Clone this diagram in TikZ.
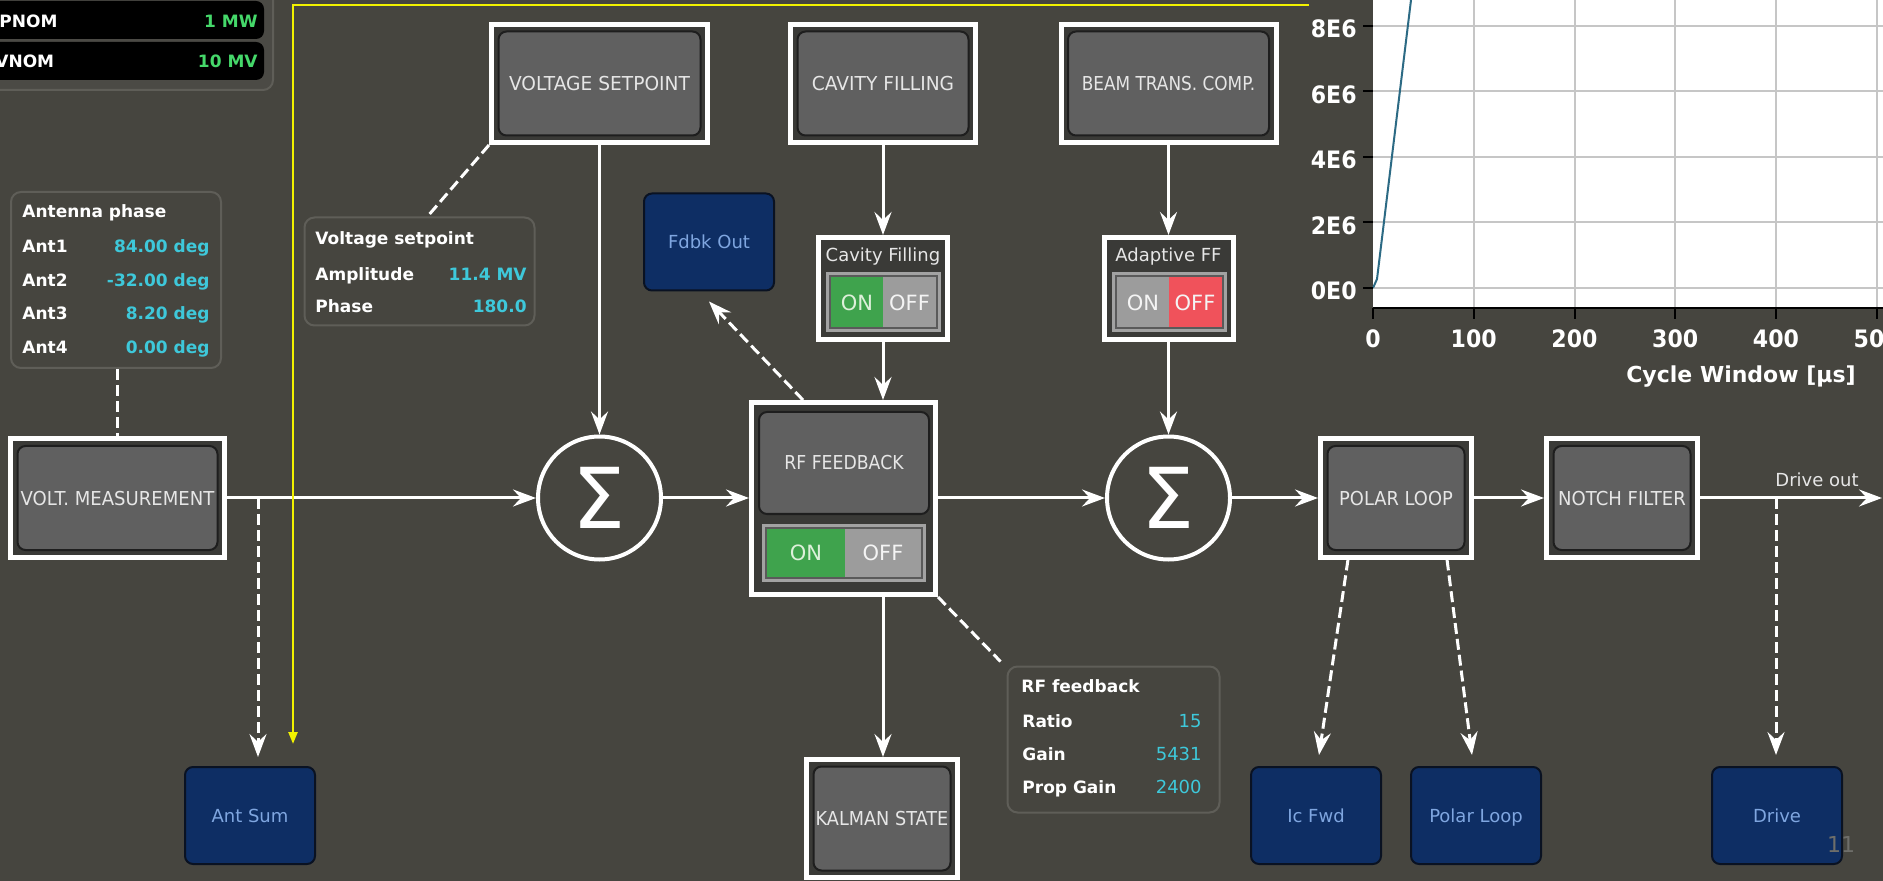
\documentclass[tikz,border=0pt]{standalone}
\usepackage{fontspec}
\setmainfont{DejaVu Sans}
\usepackage{graphicx}
\usetikzlibrary{arrows.meta}
\definecolor{bg}{HTML}{46453F}
\definecolor{ring}{HTML}{3A3A37}
\definecolor{boxgray}{HTML}{606060}
\definecolor{boxedge}{HTML}{1E1E1E}
\definecolor{lbl}{HTML}{E6E6E6}
\definecolor{ongreen}{HTML}{3FA34D}
\definecolor{offgray}{HTML}{9C9C9C}
\definecolor{offred}{HTML}{F0525B}
\definecolor{framegray}{HTML}{A2A2A2}
\definecolor{framein}{HTML}{5A5A5A}
\definecolor{navy}{HTML}{0E2E64}
\definecolor{navyedge}{HTML}{0A1222}
\definecolor{navytext}{HTML}{7FA6E0}
\definecolor{cyanval}{HTML}{3EC8DA}
\definecolor{greenval}{HTML}{45D86A}
\definecolor{panelline}{HTML}{5F5E58}
\definecolor{panelfill}{HTML}{4B4A45}
\definecolor{gridgray}{HTML}{C6C6C6}
\definecolor{curvecol}{HTML}{2C6A84}
\definecolor{pagegray}{HTML}{6E6E6A}
\definecolor{ylw}{HTML}{F2F200}
\definecolor{ontxt}{HTML}{DDF0DA}
\definecolor{offtxt}{HTML}{F4F4F4}
\tikzset{
  outerbox/.style={draw=white, line width=2.5pt, fill=ring, inner sep=0pt},
  innerbox/.style={draw=boxedge, line width=1pt, fill=boxgray, rounded corners=4pt, inner sep=0pt, text=lbl, font=\fontsize{9.6}{11}\selectfont, text height=7pt, text depth=0pt},
  sumnode/.style={circle, draw=white, line width=2pt, fill=bg, inner sep=0pt, minimum size=61.5pt, text=white, font=\fontsize{42}{42}\selectfont},
  conn/.style={draw=white, line width=1.5pt, -{Stealth[length=11.5pt,width=8.5pt,inset=4pt]}},
  dashline/.style={draw=white, line width=1.5pt, dash pattern=on 5.5pt off 2.5pt},
  dasharrow/.style={dashline, -{Stealth[length=11.5pt,width=8.5pt,inset=4pt]}},
  navybox/.style={draw=navyedge, line width=1pt, fill=navy, rounded corners=4pt, inner sep=0pt, minimum width=65pt, minimum height=48.5pt, text=navytext, font=\fontsize{9}{11}\selectfont, text height=6.5pt, text depth=0pt},
  infopanel/.style={draw=panelline, line width=1pt, fill=bg, rounded corners=5pt, inner sep=0pt},
  plbl/.style={anchor=base west, inner sep=0pt, text=white, font=\fontsize{8.5}{10}\selectfont\bfseries},
  pval/.style={anchor=base east, inner sep=0pt, text=cyanval, font=\fontsize{8.5}{10}\selectfont\bfseries},
  pvalreg/.style={anchor=base east, inner sep=0pt, text=cyanval, font=\fontsize{9}{11}\selectfont},
  smalllbl/.style={anchor=base, inner sep=0pt, text=lbl, font=\fontsize{9}{11}\selectfont},
  swtext/.style={inner sep=0pt, font=\fontsize{10.5}{12}\selectfont},
  swframe/.style={draw=framegray, line width=1.5pt, fill=framein},
  ticklbl/.style={inner sep=0pt, text=white, font=\fontsize{12}{14}\selectfont\bfseries},
  gridln/.style={draw=gridgray, line width=1pt},
  ylwline/.style={draw=ylw, line width=1.2pt, -{Triangle[length=6pt,width=4.5pt]}},
  topval/.style={anchor=base east, inner sep=0pt, text=greenval, font=\fontsize{8.5}{10}\selectfont\bfseries},
  toplbl/.style={anchor=base west, inner sep=0pt, text=white, font=\fontsize{8.5}{10}\selectfont\bfseries},
}
\newcommand\mkblock[7]{%
  \node[outerbox, minimum width={(#4-5)*0.5pt}, minimum height={(#5-5)*0.5pt}] (#1) at (#2,#3) {};
  \node[innerbox, minimum width={(#4-19)*0.5pt}, minimum height={(#5-19)*0.5pt}] (#1in) at (#2,#3) {\scalebox{#6}[1]{#7}};
}
\begin{document}
\begin{tikzpicture}[x=0.5pt, y=-0.5pt]
\useasboundingbox (0,0) rectangle (1883,881);
\clip (0,0) rectangle (1883,881);
\fill[bg] (0,0) rectangle (1883,881);

% top-left status panel
\draw[fill=panelfill, draw=panelline, line width=1pt, rounded corners=5pt] (-20,-20) rectangle (273,90);
\fill[black, rounded corners=4pt] (-20,1) rectangle (264,39);
\fill[black, rounded corners=4pt] (-20,42) rectangle (264,80);
\node[toplbl] (pnom) at (-1,28) {PNOM};
\node[topval] (pnomv) at (258,28) {1 MW};
\node[toplbl] (vnom) at (-5,68) {VNOM};
\node[topval] (vnomv) at (258,68) {10 MV};

% chart
\fill[white] (1373,-20) rectangle (1900,308);
\foreach \k in {0,...,4} { \draw[gridln] (1373,{288-65.5*\k}) -- (1900,{288-65.5*\k}); }
\foreach \k in {1,...,5} { \draw[gridln] ({1373+100.75*\k},-20) -- ({1373+100.75*\k},308); }
\draw[curvecol, line width=1pt] (1373,288) -- (1377,279) -- (1411,0) -- (1413,-12);
\draw[black, line width=1pt] (1373,308) -- (1900,308);
\foreach \k/\lab in {0/0,1/100,2/200,3/300,4/400,5/500} {
  \draw[black, line width=1pt] ({1373+100.75*\k},308) -- ({1373+100.75*\k},319);
  \node[ticklbl, anchor=base] (xl\k) at ({1373+100.75*\k},348) {\scalebox{0.92}[1]{\lab}};
}
\foreach \k/\lab in {0/0E0,1/2E6,2/4E6,3/6E6,4/8E6} {
  \draw[black, line width=1pt] (1363,{288-65.5*\k}) -- (1373,{288-65.5*\k});
  \node[ticklbl, anchor=base east] (yl\k) at (1357,{300-65.5*\k}) {\scalebox{0.92}[1]{\lab}};
}
\node[anchor=base, inner sep=0pt, text=white, font=\fontsize{11}{13}\selectfont\bfseries] (xtitle) at (1741,383) {Cycle Window [µs]};

% info panels
\node[infopanel, minimum width=105pt, minimum height=88pt] (ant) at (116,280) {};
\node[plbl] (antt) at (22,218) {Antenna phase};
\node[plbl] (a1) at (22,253) {Ant1};
\node[plbl] (a2) at (22,286.5) {Ant2};
\node[plbl] (a3) at (22,320) {Ant3};
\node[plbl] (a4) at (22,353.5) {Ant4};
\node[pval] (a1v) at (210,253) {84.00 deg};
\node[pval] (a2v) at (210,286.5) {-32.00 deg};
\node[pval] (a3v) at (210,320) {8.20 deg};
\node[pval] (a4v) at (210,353.5) {0.00 deg};

\node[infopanel, minimum width=115pt, minimum height=54pt] (vpanel) at (419.5,271.5) {};
\node[plbl] (vpt) at (315,245) {Voltage setpoint};
\node[plbl] (vp1) at (315,281) {Amplitude};
\node[plbl] (vp2) at (315,313) {Phase};
\node[pval] (vp1v) at (527,281) {11.4 MV};
\node[pval] (vp2v) at (527,313) {180.0};

\node[infopanel, minimum width=106pt, minimum height=73pt] (rfpanel) at (1113.5,739.5) {};
\node[plbl] (rft) at (1021,692) {RF feedback};
\node[plbl] (rf1) at (1022,727) {Ratio};
\node[plbl] (rf2) at (1022,760) {Gain};
\node[plbl] (rf3) at (1022,793) {Prop Gain};
\node[pvalreg] (rf1v) at (1202,727) {15};
\node[pvalreg] (rf2v) at (1202,760) {5431};
\node[pvalreg] (rf3v) at (1202,793) {2400};

% blocks
\mkblock{vm}{117.5}{498}{219}{123}{0.94}{VOLT. MEASUREMENT}
\mkblock{vsp}{599.5}{83.5}{221}{123}{0.97}{VOLTAGE SETPOINT}
\mkblock{cf}{883}{83.5}{190}{123}{0.97}{CAVITY FILLING}
\mkblock{bt}{1168.5}{83.5}{220}{123}{0.88}{BEAM TRANS. COMP.}
\mkblock{pl}{1396}{498}{156}{123}{0.93}{POLAR LOOP}
\mkblock{nf}{1622}{498}{156}{123}{0.94}{NOTCH FILTER}
\mkblock{kal}{882}{818.5}{156}{123}{0.92}{KALMAN STATE}

% RF feedback block with switch
\node[outerbox, minimum width=92pt, minimum height=96pt] (rf) at (843.5,498.5) {};
\node[innerbox, minimum width=85pt, minimum height=51pt] (rfin) at (844,463) {\scalebox{0.9}[1]{RF FEEDBACK}};
\draw[swframe] (763.5,525.5) rectangle (924.5,580.5);
\fill[ongreen] (767,529) rectangle (845,577);
\fill[offgray] (845,529) rectangle (921,577);
\node[swtext, text=ontxt] (rfon) at (806,553) {ON};
\node[swtext, text=offtxt] (rfoff) at (883,553) {OFF};

% Cavity filling switch
\node[outerbox, minimum width=64.5pt, minimum height=51pt] (cft) at (883,288.5) {};
\node[smalllbl] (cftl) at (883,262) {Cavity Filling};
\draw[swframe] (827.5,273.5) rectangle (939.5,330.5);
\fill[ongreen] (831,277.5) rectangle (883,327);
\fill[offgray] (883,277.5) rectangle (936,327);
\node[swtext, text=ontxt] (cfon) at (857,302.5) {ON};
\node[swtext, text=offtxt] (cfoff) at (909.5,302.5) {OFF};

% Adaptive FF switch
\node[outerbox, minimum width=64.5pt, minimum height=51pt] (aft) at (1168.5,288.5) {};
\node[smalllbl] (aftl) at (1168.5,262) {Adaptive FF};
\draw[swframe] (1113,273.5) rectangle (1225,330.5);
\fill[offgray] (1116.5,277.5) rectangle (1168.5,327);
\fill[offred] (1168.5,277.5) rectangle (1221.5,327);
\node[swtext, text=offtxt] (afon) at (1143,302.5) {ON};
\node[swtext, text=offtxt] (afoff) at (1195,302.5) {OFF};

% sum nodes
\node[sumnode] (sig1) at (599.5,498) {Σ};
\node[sumnode] (sig2) at (1168.5,498) {Σ};

% output boxes
\node[navybox] (fdbk) at (709,242) {Fdbk Out};
\node[navybox] (antsum) at (250,815.5) {Ant Sum};
\node[navybox] (icf) at (1316,815.5) {Ic Fwd};
\node[navybox] (plb) at (1476,815.5) {Polar Loop};
\node[navybox] (drive) at (1777,815.5) {Drive};

% solid connectors
\coordinate (driveout) at (1882,498);
\draw[conn] (vm.east) -- (sig1.west);
\draw[conn] (sig1.east) -- (rf.west |- sig1.east);
\draw[conn] (rf.east |- sig2.west) -- (sig2.west);
\draw[conn] (sig2.east) -- (pl.west |- sig2.east);
\draw[conn] (pl.east) -- (nf.west);
\draw[conn] (nf.east) -- (driveout);
\draw[conn] (vsp.south) -- (sig1.north);
\draw[conn] (cf.south) -- (cft.north);
\draw[conn] (cft.south) -- (cft.south |- rf.north);
\draw[conn] (bt.south) -- (aft.north);
\draw[conn] (aft.south) -- (sig2.north);
\draw[conn] (rf.south -| cft.south) -- (kal.north -| cft.south);
\node[smalllbl] (dolbl) at (1817,487) {Drive out};

% dashed connectors
\draw[dashline] (vm.north |- ant.south) -- (vm.north);
\draw[dashline] (vsp.south west) -- ([xshift=4pt]vpanel.north);
\draw[dasharrow] ([xshift=27pt]rf.north west) -- ([yshift=-5pt]fdbk.south);
\draw[dashline] (rf.south east) -- ([xshift=-3pt,yshift=2pt]rfpanel.north west);
\coordinate (br1) at (258,498);
\draw[dasharrow, shorten >=4.5pt] (br1) -- (br1 |- antsum.north);
\draw[dasharrow] ([xshift=-24pt]pl.south) -- ([xshift=1.5pt,yshift=5.5pt]icf.north);
\draw[dasharrow] ([xshift=25.5pt]pl.south) -- ([xshift=-2pt,yshift=5.5pt]plb.north);
\coordinate (br2) at (1776,498);
\draw[dasharrow, shorten >=5.5pt] (br2) -- (br2 |- drive.north);

% yellow annotation arrow
\coordinate (ystart) at (1309,5);
\coordinate (ycorner) at (293,5);
\coordinate (yend) at (293,744);
\draw[ylwline] (ystart) -- (ycorner) -- (yend);

% page number
\node[anchor=base, inner sep=0pt, text=pagegray, font=\fontsize{11}{13}\selectfont] (pg) at (1841,852) {11};
\end{tikzpicture}
\end{document}
